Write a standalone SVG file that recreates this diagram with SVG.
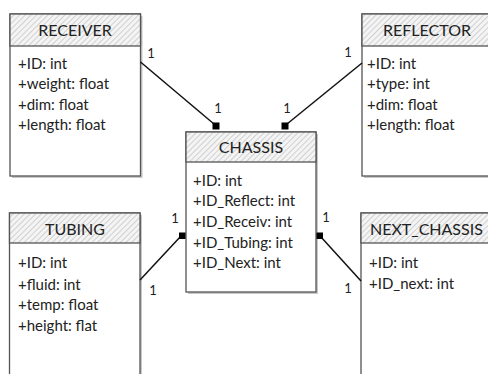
<svg xmlns="http://www.w3.org/2000/svg" width="488" height="374" viewBox="0 0 488 374">
<style>
.box{fill:#fff;stroke:#555;stroke-width:1.3}
.shadow{fill:#c8c8c8}
.hdr{fill:url(#hatch);stroke:#555;stroke-width:1.3}
.title{font-family:Lato,"Open Sans","Liberation Sans",sans-serif;font-size:16px;fill:#222;text-anchor:middle}
.attr{font-family:Lato,"Open Sans","Liberation Sans",sans-serif;font-size:15px;fill:#222}
.lbl{font-family:Lato,"Open Sans","Liberation Sans",sans-serif;font-size:13px;fill:#222;text-anchor:middle}
.conn{stroke:#111;stroke-width:1.5;fill:none}
.sq{fill:#000}
</style>
<defs>
<pattern id="hatch" width="4" height="4" patternUnits="userSpaceOnUse" patternTransform="rotate(45)">
<rect width="4" height="4" fill="#f4f4f4"/>
<line x1="0" y1="0" x2="0" y2="4" stroke="#b8b8b8" stroke-width="1.2"/>
</pattern>
</defs>
<rect width="488" height="374" fill="#fff"/>
<g id="receiver">
<rect class="shadow" x="12" y="16" width="130.5" height="162"/>
<rect class="box" x="10" y="14" width="130.5" height="162"/>
<rect class="hdr" x="10" y="14" width="130.5" height="32"/>
<text class="title" x="75" y="36">RECEIVER</text>
<text class="attr" x="18" y="69">+ID: int</text>
<text class="attr" x="18" y="89">+weight: float</text>
<text class="attr" x="18" y="110">+dim: float</text>
<text class="attr" x="18" y="130">+length: float</text>
</g>
<g id="reflector">
<rect class="shadow" x="364" y="16" width="140" height="162"/>
<rect class="box" x="362" y="14" width="140" height="162"/>
<rect class="hdr" x="362" y="14" width="140" height="32"/>
<text class="title" x="427" y="36">REFLECTOR</text>
<text class="attr" x="367" y="69">+ID: int</text>
<text class="attr" x="367" y="89">+type: int</text>
<text class="attr" x="367" y="110">+dim: float</text>
<text class="attr" x="367" y="130">+length: float</text>
</g>
<g id="chassis">
<rect class="shadow" x="188" y="134" width="130" height="160"/>
<rect class="box" x="186" y="132" width="130" height="160"/>
<rect class="hdr" x="186" y="132" width="130" height="30"/>
<text class="title" x="251" y="153">CHASSIS</text>
<text class="attr" x="193" y="186">+ID:  int</text>
<text class="attr" x="193" y="206">+ID_Reflect: int</text>
<text class="attr" x="193" y="227">+ID_Receiv: int</text>
<text class="attr" x="193" y="248">+ID_Tubing: int</text>
<text class="attr" x="193" y="268">+ID_Next: int</text>
</g>
<g id="tubing">
<rect class="shadow" x="11.5" y="215" width="130.5" height="200"/>
<rect class="box" x="9.5" y="213" width="130.5" height="200"/>
<rect class="hdr" x="9.5" y="213" width="130.5" height="30"/>
<text class="title" x="75" y="235">TUBING</text>
<text class="attr" x="18" y="268">+ID: int</text>
<text class="attr" x="18" y="290">+fluid: int</text>
<text class="attr" x="18" y="310">+temp: float</text>
<text class="attr" x="18" y="331">+height: flat</text>
</g>
<g id="next_chassis">
<rect class="shadow" x="363" y="215" width="140" height="200"/>
<rect class="box" x="361" y="213" width="140" height="200"/>
<rect class="hdr" x="361" y="213" width="140" height="30"/>
<text class="title" x="370" y="235" style="text-anchor:start">NEXT_CHASSIS</text>
<text class="attr" x="369" y="268">+ID: int</text>
<text class="attr" x="369" y="289">+ID_next: int</text>
</g>
<g id="connectors">
<line class="conn" x1="140.5" y1="62" x2="214" y2="124"/>
<rect class="sq" x="212.5" y="122.5" width="7" height="7"/>
<line class="conn" x1="362" y1="63" x2="287" y2="124"/>
<rect class="sq" x="281.5" y="122.5" width="7" height="7"/>
<line class="conn" x1="140" y1="280" x2="181" y2="236"/>
<rect class="sq" x="179" y="232.5" width="6.5" height="6.5"/>
<line class="conn" x1="321" y1="237" x2="361" y2="281"/>
<rect class="sq" x="316.5" y="232.5" width="6.5" height="6.5"/>
<text class="lbl" x="151" y="58">1</text>
<text class="lbl" x="348" y="57">1</text>
<text class="lbl" x="218" y="113">1</text>
<text class="lbl" x="287" y="113">1</text>
<text class="lbl" x="175" y="223">1</text>
<text class="lbl" x="326" y="222">1</text>
<text class="lbl" x="153" y="295">1</text>
<text class="lbl" x="348" y="293">1</text>
</g>
</svg>
